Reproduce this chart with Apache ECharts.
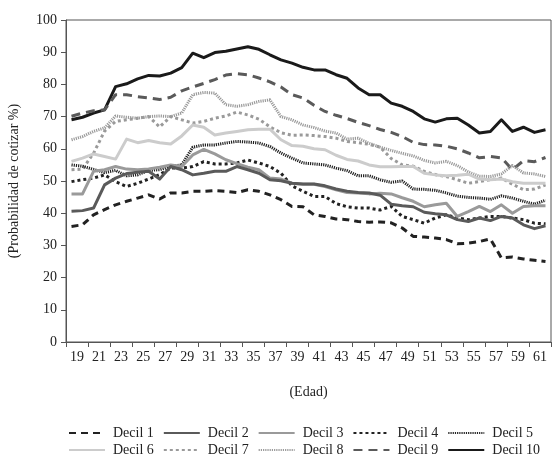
<!DOCTYPE html>
<html>
<head>
<meta charset="utf-8">
<script src="https://cdn.jsdelivr.net/npm/echarts@6/dist/echarts.min.js"></script>
<style>
html,body{margin:0;padding:0;background:#fff;}
#chart{width:554px;height:457px;}
</style>
</head>
<body>
<div id="chart"></div>
<script>
const ages = ['19','20','21','22','23','24','25','26','27','28','29','30','31','32','33','34','35','36','37','38','39','40','41','42','43','44','45','46','47','48','49','50','51','52','53','54','55','56','57','58','59','60','61','62'];
const seriesNames = ['Decil 1','Decil 2','Decil 3','Decil 4','Decil 5','Decil 6','Decil 7','Decil 8','Decil 9','Decil 10'];

const decil1 = [35.9,36.4,39.5,41.1,42.6,43.7,44.7,45.7,44.4,46.3,46.3,46.8,46.8,47.0,46.8,46.4,47.3,46.8,45.7,44.2,42.1,42.0,39.5,39.0,38.2,38.0,37.4,37.2,37.3,37.0,35.4,32.8,32.6,32.3,31.8,30.5,30.7,31.2,32.0,26.1,26.4,25.8,25.4,25.0];
const decil2 = [40.6,40.8,41.6,48.8,50.9,52.3,52.7,53.0,50.6,54.5,53.5,51.9,52.4,53.0,53.0,54.5,53.5,52.4,50.4,50.1,49.3,49.1,49.1,48.5,47.5,46.8,46.4,46.3,45.6,42.8,42.3,42.0,40.3,39.8,39.5,38.0,37.4,38.5,37.7,39.0,38.5,36.4,35.2,36.1];
const decil3 = [46.0,46.0,53.0,53.5,54.5,53.7,53.5,53.7,54.3,55.0,54.5,58.1,59.8,58.4,56.6,55.4,54.3,53.5,50.9,50.6,49.3,49.0,49.0,48.3,47.3,46.4,46.3,46.0,46.2,46.0,44.8,43.7,42.0,42.6,43.1,39.0,40.5,42.1,40.5,42.6,40.0,42.1,42.3,42.3];
const decil4 = [49.8,50.4,50.9,51.9,49.8,48.3,49.3,50.6,52.0,54.0,54.0,54.5,56.0,55.3,55.3,55.6,56.5,55.6,54.5,52.4,48.5,46.8,45.2,45.2,43.0,42.0,41.6,41.6,41.0,42.1,39.0,38.0,36.9,38.5,39.5,38.5,38.0,38.5,39.0,39.0,38.5,38.0,36.9,36.7];
const decil5 = [55.0,54.6,53.6,52.6,53.3,51.6,51.9,53.3,53.5,54.5,55.0,60.5,61.2,61.2,61.8,62.3,62.1,61.8,60.7,58.7,57.1,55.6,55.3,55.0,54.0,53.2,51.6,51.6,50.4,49.6,50.0,47.5,47.4,47.1,46.3,45.3,44.9,44.7,44.3,45.4,44.7,43.7,42.8,44.0];
const decil6 = [56.1,57.1,58.4,57.6,56.8,63.0,61.9,62.6,61.9,61.5,64.0,67.4,66.7,64.3,64.9,65.4,65.9,66.1,66.1,62.8,61.0,60.8,60.0,59.7,58.0,56.7,56.2,55.0,54.4,54.4,54.5,54.5,52.4,51.9,51.6,51.8,52.1,50.6,50.4,50.6,49.8,49.3,49.3,49.3];
const decil7 = [53.5,53.7,58.6,65.5,68.5,69.0,69.5,70.0,66.8,70.0,69.0,68.0,68.5,69.5,70.2,71.4,70.5,69.2,66.8,65.0,64.2,64.3,64.1,63.8,63.3,62.3,61.9,61.4,60.5,57.0,55.0,54.6,53.0,52.0,51.4,50.4,49.3,49.8,50.4,50.9,49.0,47.3,47.5,48.8];
const decil8 = [62.8,63.8,65.4,66.5,70.2,69.8,69.5,70.0,70.2,70.0,71.1,76.8,77.5,77.3,73.7,73.2,73.7,74.7,75.2,70.0,69.0,67.4,66.6,65.5,64.9,63.0,63.3,61.7,60.5,59.5,58.6,57.8,56.4,55.6,56.1,54.8,52.8,51.5,51.4,52.2,54.8,52.5,52.2,51.4];
const decil9 = [70.1,71.1,71.8,72.1,76.8,76.8,76.2,75.8,75.3,76.0,78.0,79.2,80.3,81.5,82.9,83.3,83.0,82.0,80.8,79.2,76.8,75.8,73.5,71.6,70.4,69.4,68.2,67.2,66.0,65.1,63.8,62.0,61.3,61.2,60.8,60.0,58.7,57.2,57.6,57.2,53.5,56.3,56.0,57.3];
const decil10 = [69.0,69.8,71.1,72.1,79.3,80.2,81.7,82.8,82.6,83.5,85.2,89.7,88.3,89.9,90.3,91.0,91.7,90.9,89.2,87.6,86.6,85.3,84.5,84.5,83.0,81.9,78.9,76.8,76.8,74.2,73.2,71.6,69.3,68.3,69.3,69.5,67.4,64.9,65.4,69.0,65.4,66.7,65.1,65.9];

const values = [decil1,decil2,decil3,decil4,decil5,decil6,decil7,decil8,decil9,decil10];
const styles = [
  {color:'#222222', type:[7,5], width:3},
  {color:'#5a5a5a', type:'solid', width:3},
  {color:'#9a9a9a', type:'solid', width:3},
  {color:'#222222', type:[3,3], width:3},
  {color:'#222222', type:[1.2,1], width:3},
  {color:'#cccccc', type:'solid', width:3},
  {color:'#9a9a9a', type:[3,3], width:3},
  {color:'#9a9a9a', type:[1.2,1], width:3},
  {color:'#5a5a5a', type:[9,6], width:3},
  {color:'#1a1a1a', type:'solid', width:3}
];

const FONT = 'Liberation Serif';
const series = seriesNames.map((n,i)=>({
  name:n, type:'line', data:values[i], symbol:'none', showSymbol:false, smooth:false,
  lineStyle:{color:styles[i].color, type:styles[i].type, width:styles[i].width, cap:'butt', join:'round'},
  itemStyle:{color:styles[i].color},
  z: 10 - i
}));

const legendCommon = {
  orient:'horizontal', left:63, width:530, itemWidth:36, itemHeight:12, itemGap:9,
  itemStyle:{opacity:0},
  textStyle:{fontFamily:FONT, fontSize:14, color:'#222', width:45, padding:[0,0,0,3]},
  selectedMode:false
};

const chart = echarts.init(document.getElementById('chart'), null, {renderer:'canvas'});
chart.setOption({
  animation:false,
  backgroundColor:'#fff',
  grid:{left:66, right:3, top:20, bottom:115, show:true, borderColor:'#555', borderWidth:1, containLabel:false, outerBoundsMode:'none'},
  legend:[
    Object.assign({}, legendCommon, {top:421, data:seriesNames.slice(0,5)}),
    Object.assign({}, legendCommon, {top:438, data:seriesNames.slice(5,10)})
  ],
  xAxis:{
    type:'category', data:ages, boundaryGap:true,
    name:'(Edad)', nameLocation:'middle', nameGap:43,
    nameTextStyle:{fontFamily:FONT, fontSize:14, color:'#222'},
    axisLine:{lineStyle:{color:'#555', width:1}},
    axisTick:{show:true, interval:1, length:5, alignWithLabel:false, lineStyle:{color:'#555'}},
    axisLabel:{interval:1, fontFamily:FONT, fontSize:14, color:'#222', margin:8, padding:[0,0,0,11]},
    splitLine:{show:false}
  },
  yAxis:{
    type:'value', min:0, max:100, interval:10,
    name:'(Probabilidad de cotizar %)', nameLocation:'middle', nameGap:45, nameRotate:90,
    nameTextStyle:{fontFamily:FONT, fontSize:14, color:'#222'},
    axisLine:{show:true, lineStyle:{color:'#555', width:1}},
    axisTick:{show:true, length:5, lineStyle:{color:'#555'}},
    axisLabel:{fontFamily:FONT, fontSize:14, color:'#222', margin:9},
    splitLine:{show:false}
  },
  series: series
});
</script>
</body>
</html>
